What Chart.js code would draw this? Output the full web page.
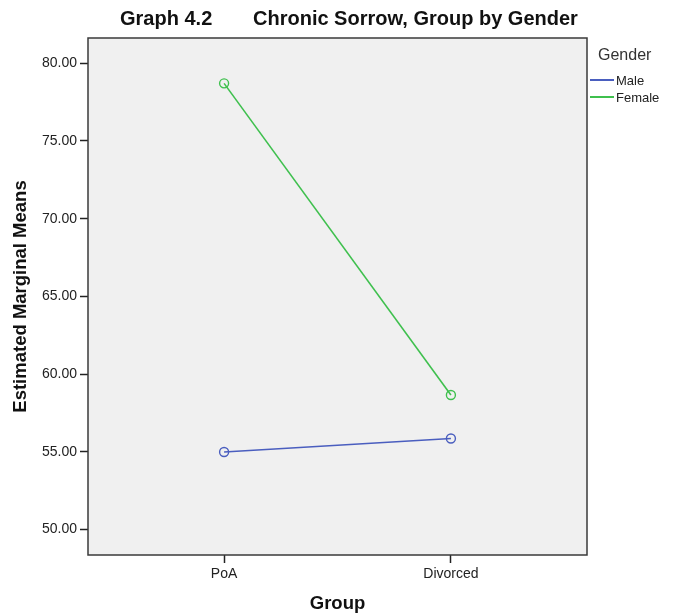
<!DOCTYPE html>
<html>
<head>
<meta charset="utf-8">
<script src="https://cdn.jsdelivr.net/npm/chart.js@4.4.1/dist/chart.umd.min.js"></script>
<style>
  html, body { margin: 0; padding: 0; background: #ffffff; }
  #wrap { width: 678px; height: 615px; position: relative; }
</style>
</head>
<body>
<div id="wrap"><canvas id="chart"></canvas></div>
<script>
// Estimated marginal means
const groups = ['PoA', 'Divorced'];
const maleMeans = [54.98, 55.85];
const femaleMeans = [78.71, 58.65];
const yTicks = [50, 55, 60, 65, 70, 75, 80];

const titleLeft = 'Graph 4.2';
const titleRight = 'Chronic Sorrow, Group by Gender';
const legendTitle = 'Gender';

const FONT = '"Liberation Sans", Arial, sans-serif';
const BLUE = '#4a5ebf';
const GREEN = '#3fc04e';

const toPoints = arr => arr.map((v, i) => ({ x: i, y: v }));

// plot background + frame, title, legend
const spssDecor = {
    id: 'spssDecor',
    beforeDraw(chart) {
        const { ctx, chartArea: a } = chart;
        ctx.save();
        ctx.fillStyle = '#f0f0f0';
        ctx.fillRect(a.left, a.top, a.right - a.left, a.bottom - a.top);
        ctx.restore();
    },
    afterDraw(chart) {
        const { ctx, chartArea: a } = chart;
        ctx.save();
        ctx.strokeStyle = '#3a3a3a';
        ctx.lineWidth = 1.5;
        ctx.strokeRect(a.left, a.top, a.right - a.left, a.bottom - a.top);

        // title
        ctx.fillStyle = '#111';
        ctx.font = 'bold 20px ' + FONT;
        ctx.textBaseline = 'middle';
        ctx.textAlign = 'left';
        ctx.fillText(titleLeft, 120, 19);
        ctx.fillText(titleRight, 253, 19);

        // legend
        ctx.fillStyle = '#333';
        ctx.font = '16px ' + FONT;
        ctx.fillText(legendTitle, 598, 56);
        ctx.font = '13px ' + FONT;
        chart.data.datasets.forEach((ds, i) => {
            const y = 80 + i * 17;
            ctx.strokeStyle = ds.borderColor;
            ctx.lineWidth = 2;
            ctx.beginPath();
            ctx.moveTo(590, y);
            ctx.lineTo(614, y);
            ctx.stroke();
            ctx.fillStyle = '#222';
            ctx.fillText(ds.label, 616, y + 1);
        });
        ctx.restore();
    }
};

new Chart(document.getElementById('chart').getContext('2d'), {
    type: 'line',
    data: {
        datasets: [
            {
                label: 'Male',
                data: toPoints(maleMeans),
                borderColor: BLUE,
                backgroundColor: 'rgba(0,0,0,0)',
                borderWidth: 1.6,
                pointRadius: 4.5,
                pointBorderWidth: 1.4,
                pointBorderColor: BLUE,
                pointBackgroundColor: 'rgba(0,0,0,0)'
            },
            {
                label: 'Female',
                data: toPoints(femaleMeans),
                borderColor: GREEN,
                backgroundColor: 'rgba(0,0,0,0)',
                borderWidth: 1.6,
                pointRadius: 4.5,
                pointBorderWidth: 1.4,
                pointBorderColor: GREEN,
                pointBackgroundColor: 'rgba(0,0,0,0)'
            }
        ]
    },
    options: {
        responsive: true,
        maintainAspectRatio: false,
        animation: false,
        layout: { padding: { top: 38, right: 91, left: 0, bottom: 0 } },
        plugins: {
            legend: { display: false },
            title: { display: false },
            tooltip: { enabled: false }
        },
        scales: {
            x: {
                type: 'linear',
                min: -0.6,
                max: 1.6,
                afterBuildTicks: s => { s.ticks = groups.map((g, i) => ({ value: i })); },
                afterFit: s => { s.height = 60; },
                border: { display: false },
                grid: { drawOnChartArea: false, drawTicks: true, tickLength: 8, tickColor: '#222', tickWidth: 1.5 },
                ticks: {
                    padding: 3,
                    color: '#222',
                    font: { family: FONT, size: 14 },
                    callback: v => groups[v]
                },
                title: {
                    display: true,
                    text: 'Group',
                    color: '#111',
                    font: { family: FONT, size: 18.5, weight: 'bold' },
                    padding: { top: 0, bottom: 0 }
                }
            },
            y: {
                min: 48.35,
                max: 81.63,
                afterBuildTicks: s => { s.ticks = yTicks.map(v => ({ value: v })); },
                afterFit: s => { s.width = 88; },
                border: { display: false },
                grid: { drawOnChartArea: false, drawTicks: true, tickLength: 8, tickColor: '#222', tickWidth: 1.5 },
                ticks: {
                    padding: 3,
                    color: '#222',
                    font: { family: FONT, size: 14 },
                    callback: v => Number(v).toFixed(2)
                },
                title: {
                    display: true,
                    text: 'Estimated Marginal Means',
                    color: '#111',
                    font: { family: FONT, size: 18.5, weight: 'bold' },
                    padding: { top: 10, bottom: 0 }
                }
            }
        }
    },
    plugins: [spssDecor]
});
</script>
</body>
</html>
